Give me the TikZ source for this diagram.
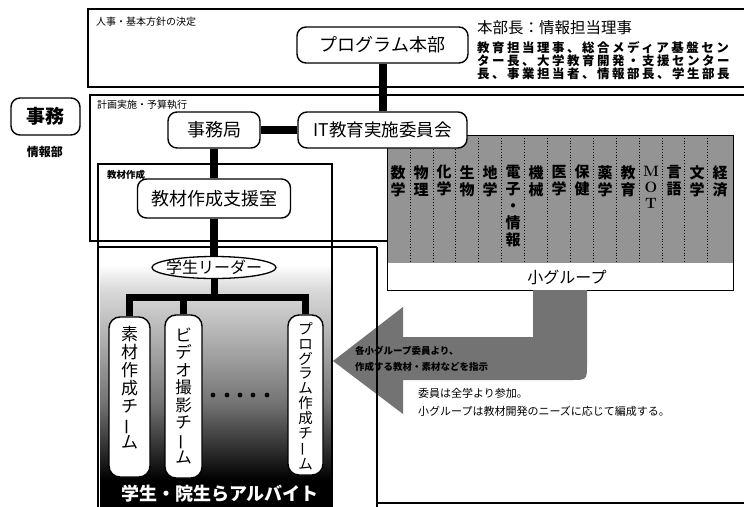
\documentclass[tikz,border=0pt]{standalone}
\usepackage{fontspec}
\usepackage{graphicx}
\newfontfamily\jp{Noto Sans CJK JP}
\usetikzlibrary{shapes.geometric}
\pgfdeclareverticalshading{studshade}{100bp}{color(0bp)=(black); color(30bp)=(black); color(36bp)=(black!82); color(45bp)=(black!55); color(57bp)=(black!32); color(67bp)=(black!15); color(72bp)=(white); color(100bp)=(white)}
\newcommand\vlong{\rotatebox[origin=c]{90}{ー}}
\begin{document}
\begin{tikzpicture}[x=1pt,y=-1pt,
  frame/.style={draw=black,line width=1.3pt},
  rnode/.style={draw=black,line width=1.4pt,rounded corners=9pt,fill=white,inner sep=0pt},
  bar/.style={line width=8pt,draw=black},
  tbar/.style={line width=7pt,draw=black},
  lbl/.style={font=\jp\fontsize{10}{12}\selectfont,anchor=west,inner sep=0pt},
  colt/.style={font=\jp\bfseries\fontsize{15}{17}\selectfont,align=center,inner sep=0pt,anchor=north},
  vtext/.style={align=center,inner sep=0pt},
]
\useasboundingbox (0,0) rectangle (744,506);
\fill[white] (0,0) rectangle (744,506);

% student gradient area
\shade[shading=studshade] (100,249) rectangle (332,506);

% frames
\draw[frame] (750,9) -- (88,9) -- (88,87) -- (750,87);
\draw[frame] (750,95) -- (90,95) -- (90,241) -- (387,241);
\draw[frame] (98,510) -- (98,164) -- (332,164) -- (332,510);
\draw[frame] (98,247) -- (377,247);
\draw[frame] (377,503) -- (750,503);

\node[lbl] (l1) at (96,22) {人事・基本方針の決定};
\node[lbl] (l2) at (97,105) {計画実施・予算執行};
\node[lbl,font=\jp\bfseries\fontsize{9.5}{11}\selectfont] (l3) at (107,175) {教材作成};

% small group box
\fill[black!42] (387,135) rectangle (733,263);
\foreach \k in {0,...,13} \draw[dotted,line width=0.8pt] ({410+22.9*\k},135) -- ({410+22.9*\k},263);
\fill[white] (387,263) rectangle (733,290);
\draw[line width=1pt] (387,135) rectangle (733,290);
\node[font=\jp\fontsize{16}{18}\selectfont,inner sep=0pt] (sg) at (567,277) {小グループ};
\foreach \ctxt/\cx [count=\i] in {{数\\学}/398,{物\\理}/421,{化\\学}/444,{生\\物}/467,{地\\学}/490,{電\\子\\・\\情\\報}/513,{機\\械}/536,{医\\学}/559,{保\\健}/582,{薬\\学}/605,{教\\育}/628,{言\\語}/674,{文\\学}/697,{経\\済}/720}
  \node[colt] (col\i) at (\cx,165) {\ctxt};
\node[colt,font=\rmfamily\bfseries\fontsize{15}{16}\selectfont] (colmot) at (651,166) {M\\O\\T};

% big arrow
\fill[black!55] (533,290) -- (587,290) -- (587,364) .. controls (587,380) .. (571,380) -- (403,380) -- (403,414) -- (333,361) -- (403,307) -- (403,337) -- (533,337) -- cycle;
\node[anchor=north west,inner sep=0pt,align=left,font=\jp\bfseries\fontsize{9.5}{16}\selectfont] (arrowtxt) at (355,346) {各小グループ委員より、\\作成する教材・素材などを指示};
\draw[frame] (377,247) -- (377,510);

% notes
\node[anchor=west,inner sep=0pt,font=\jp\fontsize{11}{13}\selectfont] (note1) at (418,393) {委員は全学より参加。};
\node[anchor=west,inner sep=0pt,font=\jp\fontsize{11}{13}\selectfont] (note2) at (418,411) {小グループは教材開発のニーズに応じて編成する。};

% right text block
\node[anchor=west,inner sep=0pt,font=\jp\fontsize{15.5}{17}\selectfont] (chief) at (477,28) {本部長：情報担当理事};
\node[anchor=north west,inner sep=0pt,align=left,font=\jp\bfseries\fontsize{12.5}{13}\selectfont\addfontfeature{LetterSpace=20}] (members) at (477,41) {教育担当理事、総合メディア基盤セン\\ター長、大学教育開発・支援センター\\長、事業担当者、情報部長、学生部長};

% main nodes
\node[rnode,minimum width=171pt,minimum height=36pt,font=\jp\fontsize{18}{20}\selectfont] (hq) at (382.5,45) {プログラム本部};
\node[rnode,minimum width=69pt,minimum height=37pt,font=\jp\bfseries\fontsize{19}{21}\selectfont] (jimu) at (45.5,116.5) {事務};
\node[inner sep=0pt,font=\jp\bfseries\fontsize{12}{14}\selectfont] (joho) at (45,152) {情報部};
\node[rnode,minimum width=92pt,minimum height=36pt,font=\jp\fontsize{18}{20}\selectfont] (jim) at (214,130) {事務局};
\node[rnode,minimum width=169pt,minimum height=36pt,font=\jp\fontsize{17.5}{20}\selectfont] (it) at (382.5,130) {IT教育実施委員会};
\node[rnode,minimum width=153pt,minimum height=39pt,font=\jp\fontsize{18}{20}\selectfont] (shien) at (214,198.5) {教材作成支援室};
\node[ellipse,draw=black,line width=1.3pt,fill=white,inner xsep=-6pt,inner ysep=0pt,minimum width=124pt,minimum height=22pt,font=\jp\fontsize{16}{18}\selectfont] (leader) at (214,267.5) {学生リーダー};

% team boxes
\node[rnode,rounded corners=11pt,minimum width=41pt,minimum height=160pt] (t1) at (129.5,397) {};
\node[rnode,rounded corners=11pt,minimum width=37pt,minimum height=163pt] (t2) at (183.5,396.5) {};
\node[rnode,rounded corners=11pt,minimum width=35pt,minimum height=160pt] (t3) at (305.5,395) {};
\node[vtext,font=\jp\fontsize{17}{18}\selectfont] (t1txt) at (129.5,388) {素\\材\\作\\成\\チ\\\vlong\\ム};
\node[vtext,font=\jp\fontsize{16.5}{17.5}\selectfont] (t2txt) at (183.5,396) {ビ\\デ\\オ\\撮\\影\\チ\\\vlong\\ム};
\node[vtext,font=\jp\fontsize{14.5}{14.8}\selectfont] (t3txt) at (305.5,396) {プ\\ロ\\グ\\ラ\\ム\\作\\成\\チ\\\vlong\\ム};

% dots
\foreach \dx [count=\i] in {213,227,240,253,267} \fill[black] (\dx,395) circle[radius=2.4pt];

\node[inner sep=0pt,text=white,font=\jp\bfseries\fontsize{18}{20}\selectfont] (arb) at (220,494) {学生・院生らアルバイト};

% connectors
\coordinate (hb) at (214,297);
\draw[bar] (hq) -- (it);
\draw[bar] (jim) -- (it);
\draw[bar] (jim) -- (shien);
\draw[bar] (shien) -- (leader);
\draw[tbar] (leader.south) -- (hb);
\draw[tbar] (t1.north) |- (hb) -| (t3.north);
\draw[tbar] (t2.north) -- (t2.north |- hb);
\end{tikzpicture}
\end{document}
